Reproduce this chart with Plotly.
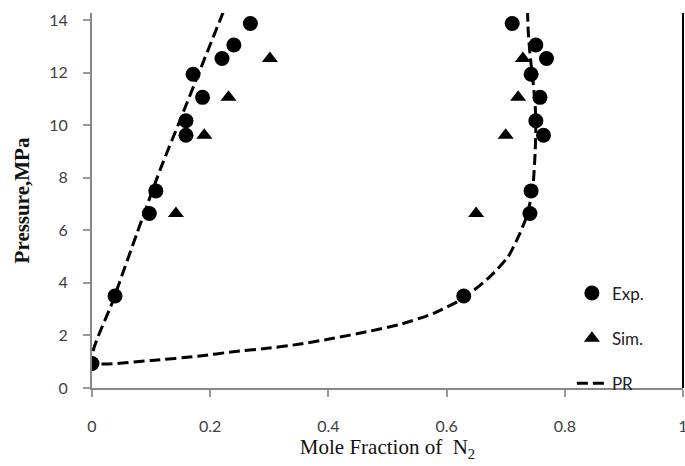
import plotly.graph_objects as go

# Experimental data (mole fraction N2, pressure MPa)
exp_x = [0.0, 0.039, 0.097, 0.108, 0.159, 0.159, 0.187, 0.171, 0.220, 0.240, 0.268,
         0.629, 0.741, 0.743, 0.764, 0.751, 0.758, 0.743, 0.769, 0.751, 0.711]
exp_p = [0.93, 3.50, 6.64, 7.50, 9.62, 10.17, 11.06, 11.94, 12.54, 13.05, 13.87,
         3.50, 6.64, 7.50, 9.62, 10.17, 11.06, 11.94, 12.54, 13.05, 13.87]

# Simulation data
sim_x = [0.142, 0.190, 0.231, 0.301, 0.650, 0.700, 0.721, 0.729]
sim_p = [6.64, 9.62, 11.06, 12.54, 6.64, 9.62, 11.06, 12.54]

# Peng-Robinson envelope
pr_x = [0.222, 0.180, 0.149, 0.115, 0.076, 0.036, 0.0,
        0.100, 0.183, 0.239, 0.296, 0.352, 0.408, 0.465, 0.521, 0.578, 0.628,
        0.673, 0.704, 0.724, 0.737, 0.746, 0.750, 0.751, 0.750, 0.746, 0.741, 0.738, 0.737]
pr_p = [14.3, 11.94, 10.19, 8.29, 5.88, 3.35, 1.0,
        1.05, 1.22, 1.38, 1.51, 1.67, 1.89, 2.14, 2.42, 2.84, 3.41,
        4.23, 4.99, 5.88, 6.64, 7.66, 9.05, 9.94, 10.70, 11.72, 12.73, 13.62, 14.3]

x_ticks = [0, 0.2, 0.4, 0.6, 0.8, 1]
x_tick_text = ["0", "0.2", "0.4", "0.6", "0.8", "1"]
y_ticks = [0, 2, 4, 6, 8, 10, 12, 14]

fig = go.Figure()
fig.add_trace(go.Scatter(x=exp_x, y=exp_p, mode="markers", name="Exp.",
                         legendgroup="a",
                         marker=dict(symbol="circle", size=15, color="black")))
fig.add_trace(go.Scatter(x=sim_x, y=sim_p, mode="markers", name="Sim.",
                         legendgroup="b",
                         marker=dict(symbol="triangle-up", size=14, color="black")))
fig.add_trace(go.Scatter(x=pr_x, y=pr_p, mode="lines", name="PR",
                         legendgroup="c",
                         line=dict(color="black", width=3, dash="11px,5px", shape="spline",
                                   smoothing=0.6)))

fig.update_layout(
    width=685, height=466,
    margin=dict(l=92, r=2, t=13, b=78),
    plot_bgcolor="white", paper_bgcolor="white",
    font=dict(family="Lato, 'Open Sans', sans-serif", color="#404040", size=16),
    showlegend=True,
    legend=dict(x=0.812, y=0.30, xanchor="left", yanchor="top",
                bgcolor="rgba(0,0,0,0)", borderwidth=0,
                tracegroupgap=20,
                font=dict(family="Lato, 'Open Sans', sans-serif", size=17, color="#222")),
    shapes=[dict(type="line", xref="paper", yref="paper", x0=1, x1=1, y0=0, y1=1,
                 line=dict(color="black", width=2))],
)

fig.update_xaxes(range=[0, 1], tickvals=x_ticks, ticktext=x_tick_text,
                 automargin=False, ticklabeloverflow="allow",
                 showgrid=False, zeroline=False,
                 showline=True, linecolor="#888888", linewidth=2,
                 ticks="outside", ticklen=7, tickcolor="#999999", tickwidth=2,
                 ticklabelstandoff=16,
                 title=dict(text="Mole Fraction of  N<sub>2</sub>",
                            font=dict(family="Liberation Serif, Times New Roman, serif",
                                      size=21, color="#111"),
                            standoff=0))
fig.update_yaxes(range=[0, 14.27], tickvals=y_ticks,
                 automargin=False,
                 showgrid=False, zeroline=False,
                 showline=True, linecolor="#888888", linewidth=2,
                 ticks="outside", ticklen=7, tickcolor="#999999", tickwidth=2,
                 ticklabelstandoff=12,
                 title=dict(text="<b>Pressure,MPa</b>",
                            font=dict(family="Liberation Serif, Times New Roman, serif",
                                      size=21, color="#111"),
                            standoff=14))

fig.write_html(
    "out.html",
    config={"displayModeBar": False},
    post_script="document.body.style.margin='0';document.body.style.overflow='hidden';",
)
